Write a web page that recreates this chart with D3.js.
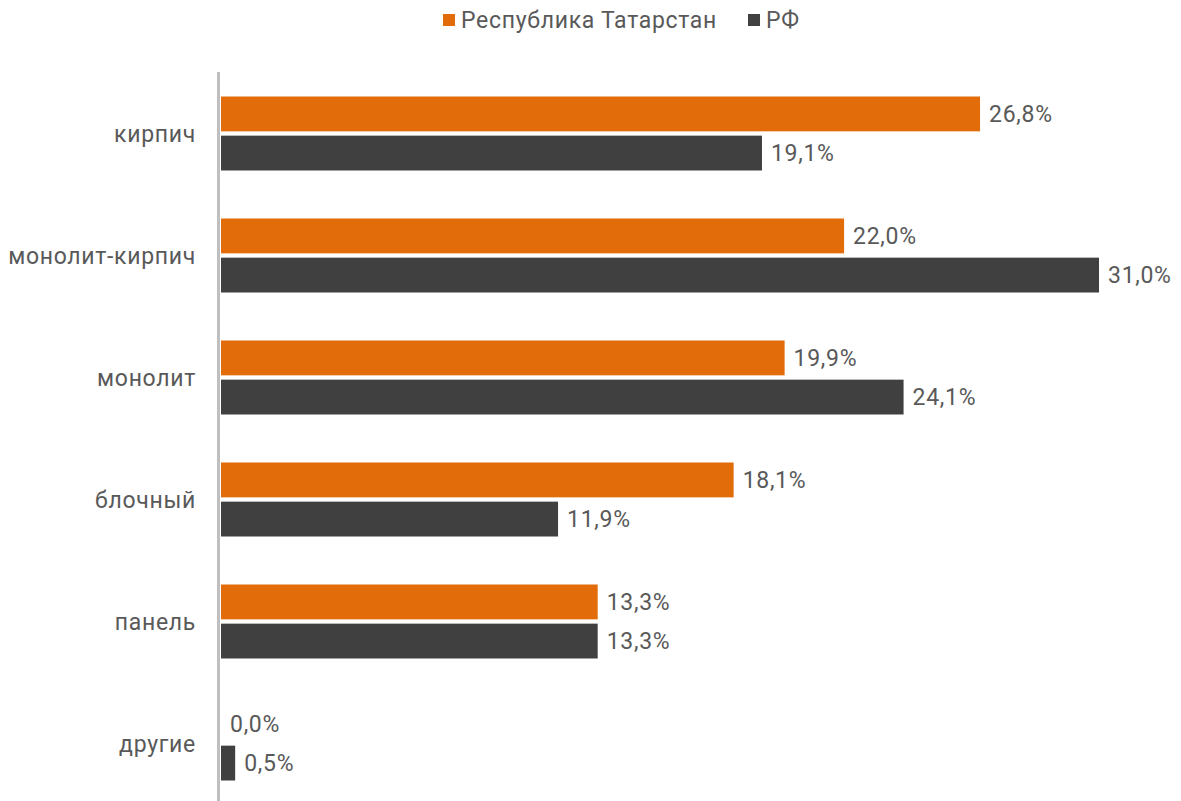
<!DOCTYPE html>
<html><head><meta charset="utf-8">
<script src="https://cdn.jsdelivr.net/npm/d3@7"></script>
<style>body{margin:0;background:#fff}svg{display:block;font-family:Roboto,"Noto Sans",sans-serif}text{letter-spacing:0.7px}</style>
</head><body><svg id="c" width="1181" height="801"></svg>
<script>
const categories = ["кирпич","монолит-кирпич","монолит","блочный","панель","другие"];
const seriesNames = ["Республика Татарстан","РФ"];
const tatarstan = [26.8,22.0,19.9,18.1,13.3,0.0];
const rf = [19.1,31.0,24.1,11.9,13.3,0.5];
const colors = ["#E36C0A","#404040"];
const FS = 23;

const svg = d3.select("#c");
const x = d3.scaleLinear().domain([0,31.0]).range([221,1099]);
const y = d3.scaleBand().domain(categories).range([72.5,804.5]).paddingInner(0).paddingOuter(0);
const inner = d3.scaleBand().domain(seriesNames).range([24,98]).paddingInner(0.11);
const fmt = v => d3.format(".1f")(v).replace(".",",")+"%";
const series = [tatarstan, rf];

categories.forEach((c,i)=>{
  const g = svg.append("g").attr("transform",`translate(0,${y(c)})`);
  series.forEach((vals,s)=>{
    const v = vals[i];
    g.append("rect").attr("x",x(0)).attr("y",inner(seriesNames[s]))
      .attr("width",x(v)-x(0)).attr("height",inner.bandwidth()).attr("fill",colors[s]);
    g.append("text").attr("x",x(v)+9).attr("y",inner(seriesNames[s])+inner.bandwidth()/2)
      .attr("dy","0.35em").attr("font-size",FS).attr("fill","#595959").text(fmt(v));
  });
});

const yAxis = d3.axisLeft(y).tickSize(0).tickPadding(0);
const ya = svg.append("g").attr("transform","translate(196,0)").call(yAxis);
ya.select(".domain").remove();
ya.selectAll("text").attr("font-size",FS).attr("fill","#595959").attr("font-family","Roboto,sans-serif").attr("dy","0.35em");

svg.append("line").attr("x1",218.5).attr("x2",218.5).attr("y1",72).attr("y2",801)
  .attr("stroke","#BFBFBF").attr("stroke-width",3);

// legend
const leg = svg.append("g");
const items = [{n:seriesNames[0],x:443,c:colors[0]},{n:seriesNames[1],x:748,c:colors[1]}];
items.forEach(it=>{
  leg.append("rect").attr("x",it.x).attr("y",14).attr("width",12).attr("height",12).attr("fill",it.c);
  leg.append("text").attr("x",it.x+18).attr("y",20).attr("dy","0.35em").attr("font-size",FS).attr("fill","#595959").text(it.n);
});
</script></body></html>
